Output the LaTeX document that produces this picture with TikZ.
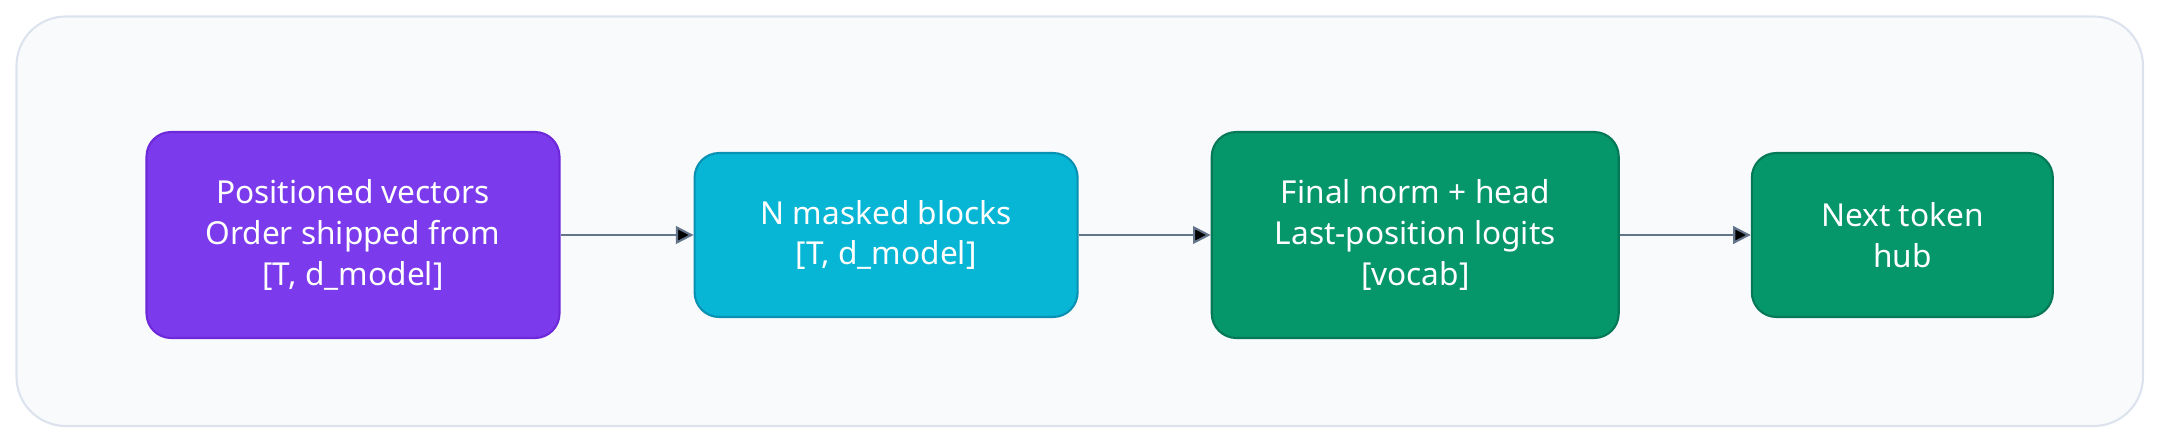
\documentclass[tikz,border=0pt]{standalone}
\usepackage{fontspec}
\setmainfont{Noto Sans}
\usetikzlibrary{positioning, arrows.meta}
\definecolor{panelfill}{HTML}{F9FAFC}
\definecolor{paneldraw}{HTML}{DDE3EE}
\definecolor{purplefill}{HTML}{7C3AED}
\definecolor{purpledraw}{HTML}{6D28D9}
\definecolor{cyanfill}{HTML}{06B6D4}
\definecolor{cyandraw}{HTML}{0891B2}
\definecolor{greenfill}{HTML}{059669}
\definecolor{greendraw}{HTML}{047857}
\definecolor{arrowcol}{HTML}{64748B}
\tikzset{
  stage/.style={rectangle, rounded corners=7pt, draw, line width=0.6pt, text=white, align=center, font=\fontsize{9}{11.6}\selectfont, inner sep=0pt},
  flow/.style={-{Triangle[length=5pt, width=5pt]}, draw=arrowcol, line width=0.6pt}
}
\begin{document}
\begin{tikzpicture}
  \useasboundingbox (0,0) rectangle (21.6,4.44);
  \draw[fill=panelfill, draw=paneldraw, line width=0.6pt, rounded corners=14pt] (0.165,0.18) rectangle (21.43,4.275);
\node[stage, fill=purplefill, draw=purpledraw, minimum width=4.13cm, minimum height=2.06cm] (vectors) at (3.53,2.09) {Positioned vectors\\Order shipped from\\{[T, d\_model]}};
\node[stage, fill=cyanfill, draw=cyandraw, minimum width=3.83cm, minimum height=1.64cm, right=1.33cm of vectors] (blocks) {N masked blocks\\{[T, d\_model]}};
\node[stage, fill=greenfill, draw=greendraw, minimum width=4.07cm, minimum height=2.06cm, right=1.32cm of blocks] (head) {Final norm + head\\Last-position logits\\{[vocab]}};
\node[stage, fill=greenfill, draw=greendraw, minimum width=3.01cm, minimum height=1.64cm, right=1.31cm of head] (next) {Next token\\hub};
\path[flow]
	(vectors) edge (blocks)
	(blocks) edge (head)
	(head) edge (next)
;
\end{tikzpicture}
\end{document}
